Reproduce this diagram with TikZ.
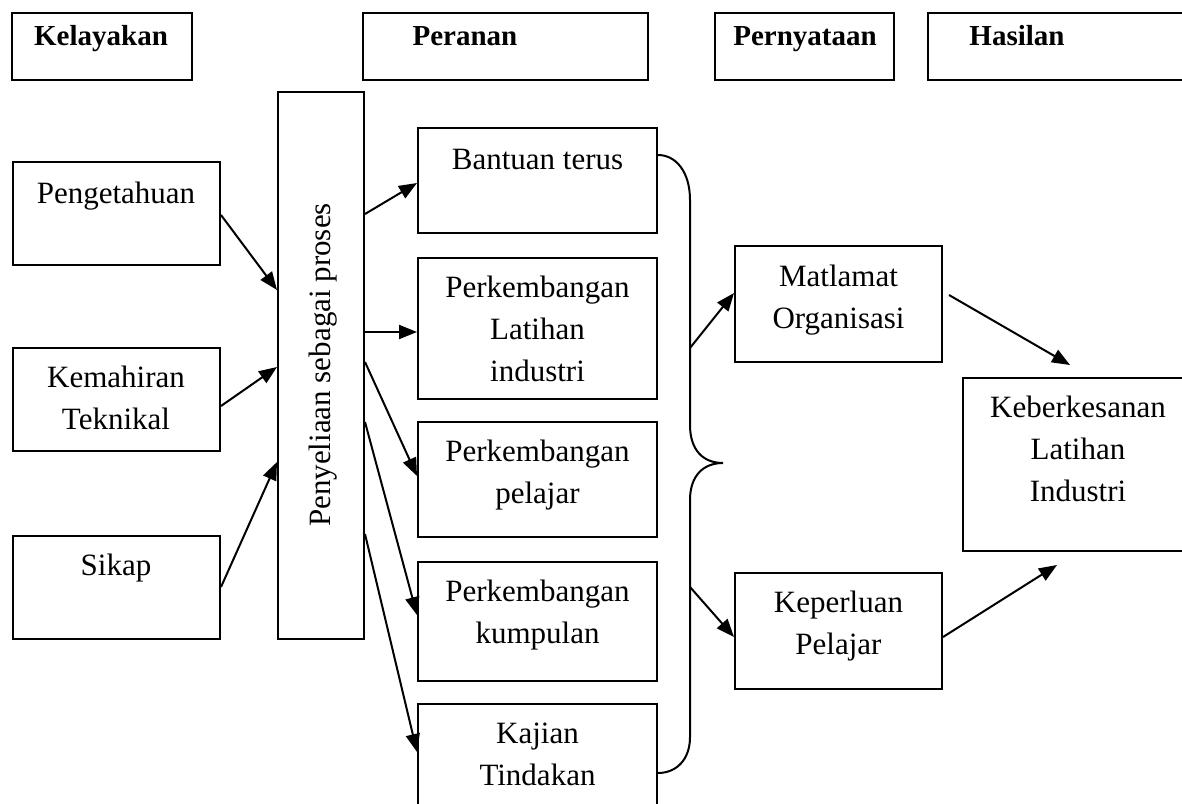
\documentclass[tikz,border=0pt]{standalone}
\usepackage{fontspec}
\setmainfont{Liberation Serif}
\usetikzlibrary{arrows.meta,fit,calc}
\begin{document}
\begin{tikzpicture}[x=0.5pt,y=-0.5pt,
  box/.style={draw, line width=1pt, inner sep=0pt},
  txt/.style={anchor=base, inner sep=0pt, align=center, font=\fontsize{15.5}{21}\selectfont},
  ttl/.style={anchor=base, inner sep=0pt, font=\fontsize{14.5}{17}\selectfont\bfseries},
  arr/.style={-{Triangle[length=9pt,width=7pt]}, line width=1pt},
  bracestyle/.style={line width=1pt}]
\useasboundingbox (0,0) rectangle (1182,803);
\clip (0,0) rectangle (1182,803);
% header boxes
\node[box, fit={(12,13) (192,80)}] (kel) {};
\node[box, fit={(363,13) (648,80)}] (per) {};
\node[box, fit={(715,13) (894,80)}] (pny) {};
\node[box, fit={(928,13) (1200,80)}] (has) {};
\node[ttl] (kelt) at (101,45) {Kelayakan};
\node[ttl] (pert) at (465,45) {Peranan};
\node[ttl] (pnyt) at (805,45) {Pernyataan};
\node[ttl] (hast) at (1017,45) {Hasilan};
% left column
\node[box, fit={(13,162) (220,265)}] (peng) {};
\node[box, fit={(13,348) (220,451)}] (kem) {};
\node[box, fit={(13,536) (220,639)}] (sik) {};
\node[txt] (pengt) at (116,203) {Pengetahuan};
\node[txt] (kemt) at (116,429) {Kemahiran\\Teknikal};
\node[txt] (sikt) at (116,575) {Sikap};
% supervision box
\node[box, fit={(278,92) (364,639)}] (sup) {};
\node[txt, rotate=90] (supt) at (330,365) {Penyeliaan sebagai proses};
% middle column
\node[box, fit={(418,128) (657,233)}] (ban) {};
\node[box, fit={(418,258) (657,399)}] (lat) {};
\node[box, fit={(418,422) (657,537)}] (pel) {};
\node[box, fit={(418,562) (657,681)}] (kum) {};
\node[box, fit={(418,704) (657,820)}] (kaj) {};
\node[txt] (bant) at (537.5,169) {Bantuan terus};
\node[txt] (latt) at (537.5,381) {Perkembangan\\Latihan\\industri};
\node[txt] (pelt) at (537.5,503) {Perkembangan\\pelajar};
\node[txt] (kumt) at (537.5,643) {Perkembangan\\kumpulan};
\node[txt] (kajt) at (537.5,785) {Kajian\\Tindakan};
% statement column
\node[box, fit={(735,246) (942,362)}] (mat) {};
\node[box, fit={(735,573) (942,689)}] (kep) {};
\node[txt] (matt) at (838.5,328) {Matlamat\\Organisasi};
\node[txt] (kept) at (838.5,654) {Keperluan\\Pelajar};
% result
\node[box, fit={(963,378) (1200,551)}] (keb) {};
\node[txt] (kebt) at (1078,501) {Keberkesanan\\Latihan\\Industri};
% brace
\draw[bracestyle] (ban.east |- 0,155) .. controls (676,155) and (690,172) .. (690,200)
  -- (690,425) .. controls (690,450) and (703,463) .. (723,463)
  .. controls (703,463) and (690,476) .. (690,500)
  -- (690,737) .. controls (690,760) and (676,773) .. (kaj.east |- 0,773);
\coordinate (brM) at (690,348);
\coordinate (brK) at (690,587);
\coordinate (kebIn1) at (1070,365);
\coordinate (kebIn2) at (1057,565);
% arrows
\draw[arr] (peng.east |- 0,215) -- (sup.west |- 0,290);
\draw[arr] (kem.east |- 0,406) -- (sup.west |- 0,367);
\draw[arr] (sik.east |- 0,587) -- (sup.west |- 0,462);
\draw[arr] (sup.east |- 0,214) -- (ban.west |- 0,183);
\draw[arr] (sup.east |- 0,332) -- (lat.west |- 0,332);
\draw[arr] (sup.east |- 0,362) -- (pel.west |- 0,476);
\draw[arr] (sup.east |- 0,422) -- (kum.west |- 0,615);
\draw[arr] (sup.east |- 0,534) -- (kaj.west |- 0,752);
\draw[arr] (brM) -- (mat.west |- 0,293);
\draw[arr] (brK) -- (kep.west |- 0,637);
\draw[arr] ([xshift=3pt]mat.east |- 0,295) -- (kebIn1);
\draw[arr] (kep.east |- 0,637) -- (kebIn2);
\end{tikzpicture}
\end{document}
